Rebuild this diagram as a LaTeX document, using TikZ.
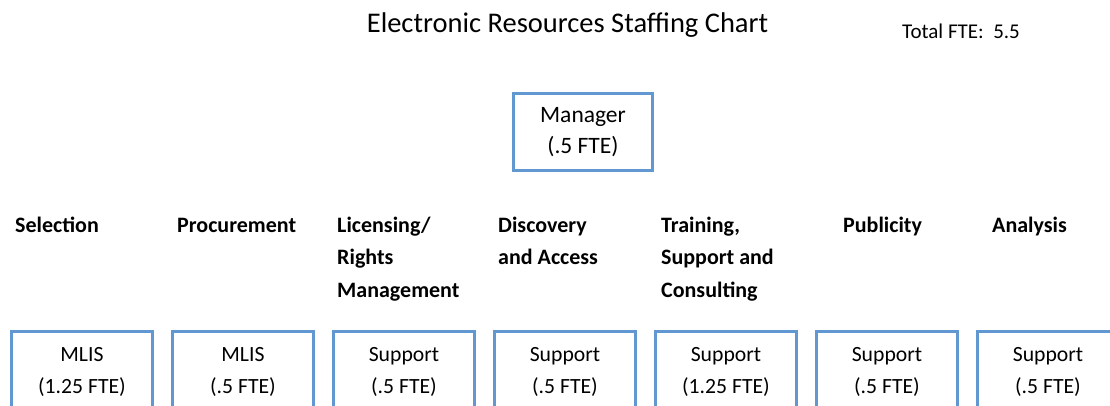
\documentclass[tikz,border=0pt]{standalone}
\usepackage{fontspec}
\setmainfont{Carlito}
\definecolor{boxblue}{RGB}{98,152,210}
\begin{document}
\begin{tikzpicture}[x=1pt,y=-1pt,
  orgbox/.style={draw=boxblue,line width=3pt,inner sep=0pt,align=center,
    font=\fontsize{21.7}{32}\selectfont},
  head/.style={anchor=base west,inner sep=0pt,align=left,
    font=\fontsize{22}{32.5}\selectfont\bfseries},
  lbl/.style={inner sep=0pt}]
\useasboundingbox (0,0) rectangle (1110,405);
\clip (0,0) rectangle (1110,405);
\node[lbl,anchor=base,font=\fontsize{28.5}{34}\selectfont] (title) at (567.5,32) {Electronic Resources Staffing Chart};
\node[lbl,anchor=base west,font=\fontsize{21}{25}\selectfont] (total) at (902,38) {Total FTE:\ \ 5.5};
\node[orgbox,minimum width=139pt,minimum height=77pt,font=\fontsize{23.5}{31}\selectfont] (mgr) at (583,132) {Manager\\(.5 FTE)};
\node[head] (h1) at (15,232) {Selection};
\node[head] (h2) at (177,232) {Procurement};
\node[head] (h3) at (337,297) {Licensing/\\Rights\\Management};
\node[head] (h4) at (498,264.5) {Discovery\\and Access};
\node[head] (h5) at (661,297) {Training,\\Support and\\Consulting};
\node[head] (h6) at (843,232) {Publicity};
\node[head] (h7) at (992,232) {Analysis};
\foreach \i/\t/\f in {0/MLIS/1.25,1/MLIS/.5,2/Support/.5,3/Support/.5,4/Support/1.25,5/Support/.5,6/Support/.5}{
  \node[orgbox,minimum width=141pt,minimum height=80.5pt] (b\i) at (82+161*\i,371.75) {\t\\(\f{} FTE)};
}
\end{tikzpicture}
\end{document}
